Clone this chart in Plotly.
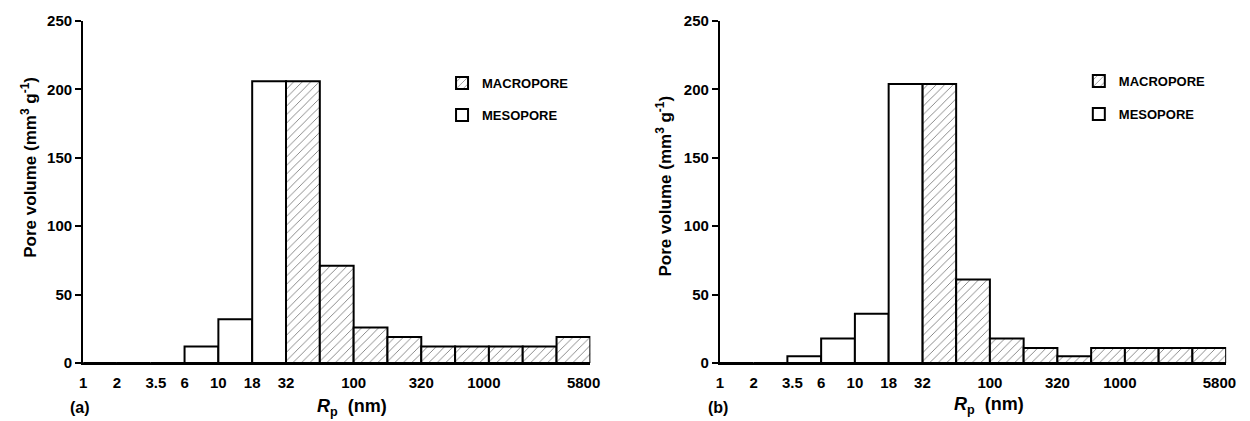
import plotly.graph_objects as go

# bin edge labels (equal-width bins on the chart)
edge_labels = ["1", "2", "3.5", "6", "10", "18", "32", "100", "320", "1000", "5800"]
edge_pos = [0, 1, 2.15, 3, 4, 5, 6, 8, 10, 11.85, 14.8]

# bin centres: bins 0..5 mesopore, 6..14 macropore
meso_bins = [0.5, 1.5, 2.5, 3.5, 4.5, 5.5]
macro_bins = [6.5, 7.5, 8.5, 9.5, 10.5, 11.5, 12.5, 13.5, 14.5]

meso_a = [0, 0, 0, 12, 32, 206]
macro_a = [206, 71, 26, 19, 12, 12, 12, 12, 19]
meso_b = [0, 0, 5, 18, 36, 204]
macro_b = [204, 61, 18, 11, 5, 11, 11, 11, 11]

W, H = 1250, 421
T, B = 21, 58
PH = H - T - B
FONT = "Liberation Sans"
hatch = dict(shape="/", fgcolor="black", bgcolor="white", size=6, solidity=0.15)
outline = dict(color="black", width=2)


def py(p):
    """pixel row -> paper y"""
    return (H - B - p) / PH


fig = go.Figure()

panels = [
    ("x", "y", meso_a, macro_a, ("legend", "legend2")),
    ("x2", "y2", meso_b, macro_b, ("legend3", "legend4")),
]
for xa, ya, meso, macro, legs in panels:
    fig.add_trace(go.Bar(
        x=macro_bins, y=macro, width=1, name="<b>MACROPORE</b>", xaxis=xa, yaxis=ya,
        marker=dict(color="white", pattern=hatch, line=outline),
        legend=legs[0], showlegend=True))
    fig.add_trace(go.Bar(
        x=meso_bins, y=meso, width=1, name="<b>MESOPORE</b>", xaxis=xa, yaxis=ya,
        marker=dict(color="white", line=outline),
        legend=legs[1], showlegend=True))

axis_font = dict(family=FONT, size=15, color="black", weight="bold")
xcommon = dict(range=[0, 15], tickvals=edge_pos, ticktext=edge_labels,
               showline=True, linecolor="black", linewidth=2, showgrid=False,
               zeroline=False, ticks="outside", ticklen=5,
               tickcolor="rgba(0,0,0,0)", tickfont=axis_font, fixedrange=True)
ycommon = dict(range=[0, 250], tickvals=[0, 50, 100, 150, 200, 250],
               showline=True, linecolor="black", linewidth=2, showgrid=False,
               zeroline=False, ticks="outside", ticklen=6, tickwidth=1.5,
               tickcolor="black", tickfont=axis_font, fixedrange=True)

leg_common = dict(font=dict(family=FONT, size=13, color="black"),
                  bgcolor="rgba(0,0,0,0)", xanchor="left", yanchor="middle",
                  itemwidth=30)

fig.update_layout(
    width=W, height=H,
    margin=dict(l=0, r=0, t=T, b=B),
    paper_bgcolor="white", plot_bgcolor="white",
    barmode="overlay",
    xaxis=dict(domain=[80 / W, 593 / W], anchor="y", **xcommon),
    yaxis=dict(domain=[0, 1], anchor="x", **ycommon),
    xaxis2=dict(domain=[724 / W, 1236 / W], anchor="y2", **xcommon),
    yaxis2=dict(domain=[0, 1], anchor="x2", **ycommon),
    legend=dict(x=443 / W, y=py(83), **leg_common),
    legend2=dict(x=443 / W, y=py(115), **leg_common),
    legend3=dict(x=1087 / W, y=py(81), **leg_common),
    legend4=dict(x=1087 / W, y=py(114), **leg_common),
    font=dict(family=FONT, size=15, color="black"),
)

ytitle = "<b>Pore volume (mm<sup>3</sup> g<sup>-1</sup>)</b>"
xtitle = "<b><i>R</i><sub>p</sub>  (nm)</b>"
annotations = [
    dict(x=25 / W, y=py(167), text=ytitle, textangle=-90, size=17),
    dict(x=667 / W, y=py(186), text=ytitle, textangle=-90, size=17),
    dict(x=352 / W, y=py(407), text=xtitle, size=18),
    dict(x=996 / W, y=py(405), text=xtitle, size=18),
    dict(x=77 / W, y=py(407), text="<b>(a)</b>", size=16),
    dict(x=722 / W, y=py(407), text="<b>(b)</b>", size=16),
]
for a in annotations:
    size = a.pop("size")
    fig.add_annotation(xref="paper", yref="paper", showarrow=False,
                       xanchor="center", yanchor="middle",
                       font=dict(family=FONT, size=size, color="black"), **a)

fig.write_html("out.html", config={"displayModeBar": False},
               post_script="document.body.style.margin='0';document.body.style.padding='0';")
